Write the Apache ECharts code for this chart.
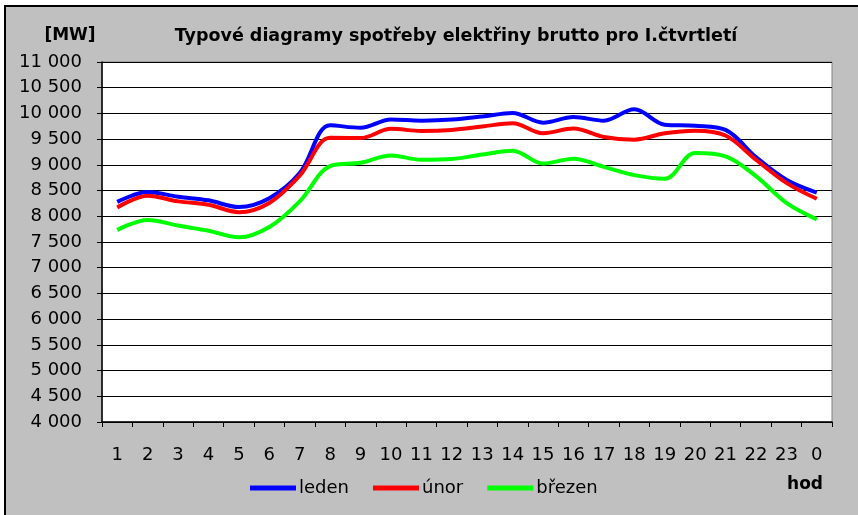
<!DOCTYPE html>
<html style="height: 100%">
<head>
<meta charset="utf-8">
<script src="https://cdn.jsdelivr.net/npm/echarts@6/dist/echarts.min.js"></script>
</head>
<body style="height: 100%; margin: 0; background: #fff">
<div id="container" style="width: 858px; height: 515px"></div>
<script type="text/javascript">
// hodiny dne
var hours = ['1','2','3','4','5','6','7','8','9','10','11','12','13','14','15','16','17','18','19','20','21','22','23','0'];
// leden [MW]
var leden = [8280, 8470, 8380, 8310, 8180, 8350, 8840, 9770, 9720, 9880, 9860, 9880, 9940, 10010, 9820, 9930, 9860, 10080, 9780, 9760, 9680, 9150, 8710, 8460];
// únor [MW]
var unor = [8170, 8400, 8290, 8225, 8080, 8260, 8790, 9525, 9520, 9700, 9660, 9680, 9745, 9810, 9615, 9705, 9540, 9490, 9615, 9665, 9570, 9100, 8650, 8340];
// březen [MW]
var brezen = [7735, 7930, 7820, 7720, 7590, 7790, 8290, 8975, 9040, 9180, 9100, 9115, 9200, 9275, 9025, 9120, 8960, 8800, 8730, 9230, 9165, 8780, 8260, 7940];

var dom = document.getElementById('container');
var myChart = echarts.init(dom);
var font = '"DejaVu Sans", sans-serif';

// 11000 -> "11 000"
function fmt(v) {
	var s = String(v);
	return s.length > 3 ? s.slice(0, s.length - 3) + ' ' + s.slice(-3) : s;
}

function line(name, data, color) {
	return {
		name: name,
		type: 'line',
		data: data,
		smooth: 0.35,
		symbol: 'none',
		lineStyle: { color: color, width: 4 },
		itemStyle: { color: color }
	};
}

var option = {
	backgroundColor: '#ffffff',
	animation: false,
	textStyle: { fontFamily: font, color: '#000' },
	graphic: [
		// šedé pozadí s černým okrajem
		{ type: 'rect', z: -10, shape: { x: 5, y: 6, width: 860, height: 520 },
		  style: { fill: '#c0c0c0', stroke: '#000', lineWidth: 2 } },
		{ type: 'text', x: 70, y: 36,
		  style: { text: '[MW]', font: 'bold 17px ' + font, fill: '#000', textAlign: 'center', textVerticalAlign: 'middle' } },
		{ type: 'text', x: 456, y: 36,
		  style: { text: 'Typové diagramy spotřeby elektřiny brutto pro I.čtvrtletí', font: 'bold 17.5px ' + font, fill: '#000', textAlign: 'center', textVerticalAlign: 'middle' } },
		{ type: 'text', x: 805, y: 485,
		  style: { text: 'hod', font: 'bold 17px ' + font, fill: '#000', textAlign: 'center', textVerticalAlign: 'middle' } }
	],
	legend: {
		left: 250,
		top: 479,
		padding: 0,
		itemWidth: 46,
		itemHeight: 5,
		itemGap: 24,
		icon: 'rect',
		textStyle: { fontFamily: font, fontSize: 18, color: '#000', padding: [0, 0, 0, -2] },
		data: ['leden', 'únor', 'březen']
	},
	grid: {
		left: 102,
		top: 62,
		right: 26,
		bottom: 93,
		show: true,
		backgroundColor: '#ffffff',
		borderColor: '#808080',
		borderWidth: 1
	},
	xAxis: {
		type: 'category',
		data: hours,
		boundaryGap: true,
		axisLine: { lineStyle: { color: '#000', width: 1.5 } },
		axisTick: { show: true, length: 5, lineStyle: { color: '#000' } },
		axisLabel: { margin: 24, fontSize: 18, color: '#000', fontFamily: font, interval: 0 },
		splitLine: { show: false }
	},
	yAxis: {
		type: 'value',
		min: 4000,
		max: 11000,
		interval: 500,
		axisLine: { show: true, lineStyle: { color: '#000', width: 1.5 } },
		axisTick: { show: true, length: 5, lineStyle: { color: '#000' } },
		axisLabel: { margin: 20, fontSize: 18, color: '#000', fontFamily: font, formatter: fmt },
		splitLine: { lineStyle: { color: '#000', width: 1 } }
	},
	series: [
		line('leden', leden, '#0000ff'),
		line('únor', unor, '#ff0000'),
		line('březen', brezen, '#00ff00')
	]
};
myChart.setOption(option, true);
</script>
</body>
</html>
